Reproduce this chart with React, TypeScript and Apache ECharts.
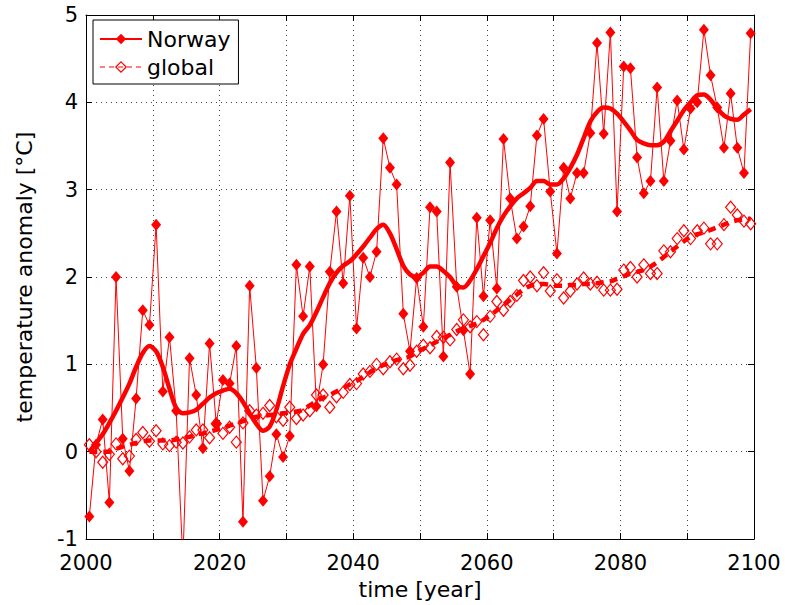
import React, { useEffect, useRef } from 'react';
import * as echarts from 'echarts';

// Calendar years of the annual means; each value is plotted at mid-year.
const years: number[] = Array.from({ length: 100 }, (_, i) => 2000 + i);

// Annual temperature anomaly for Norway [°C]
const norway: number[] = [
  -0.74, 0.08, 0.37, -0.58, 2.0, 0.15, -0.22, 0.61, 1.62, 1.45,
  2.6, 0.69, 1.31, 0.47, -1.25, 1.07, 0.65, 0.04, 1.24, 0.32,
  0.82, 0.78, 1.21, -0.8, 1.9, 0.96, -0.56, -0.28, 0.2, -0.06,
  0.18, 2.14, 1.55, 2.12, 0.52, 1.0, 2.06, 2.75, 1.93, 2.93,
  1.41, 2.22, 2.0, 2.29, 3.59, 3.25, 3.06, 1.58, 1.15, 1.99,
  1.43, 2.8, 2.75, 1.09, 3.31, 1.89, 1.39, 0.89, 2.68, 1.78,
  2.65, 1.87, 3.58, 2.9, 2.44, 2.58, 2.81, 3.62, 3.81, 2.98,
  2.27, 3.25, 2.9, 3.19, 3.19, 3.65, 4.68, 3.64, 4.8, 2.75,
  4.41, 4.39, 3.37, 2.96, 3.1, 4.17, 3.1, 3.56, 4.02, 3.46,
  3.93, 4.0, 4.83, 4.31, 3.94, 3.48, 4.1, 3.48, 3.19, 4.79,
];

// Annual global-mean temperature anomaly [°C]
const globalMean: number[] = [
  0.08, 0.0, -0.12, -0.03, 0.09, -0.08, -0.05, 0.14, 0.22, 0.12,
  0.24, 0.09, 0.07, 0.11, 0.1, 0.17, 0.25, 0.25, 0.16, 0.32,
  0.21, 0.28, 0.11, 0.33, 0.47, 0.42, 0.44, 0.53, 0.4, 0.36,
  0.51, 0.38, 0.42, 0.47, 0.65, 0.65, 0.51, 0.63, 0.68, 0.77,
  0.78, 0.89, 0.92, 1.0, 0.95, 1.03, 1.06, 0.95, 0.99, 1.15,
  1.22, 1.19, 1.32, 1.31, 1.28, 1.4, 1.51, 1.43, 1.49, 1.34,
  1.55, 1.72, 1.62, 1.72, 1.79, 1.96, 2.0, 1.9, 2.05, 1.84,
  1.97, 1.76, 1.84, 1.92, 1.99, 1.92, 1.94, 1.85, 1.85, 1.86,
  2.08, 2.11, 2.0, 2.14, 2.04, 2.04, 2.3, 2.29, 2.44, 2.53,
  2.44, 2.53, 2.56, 2.38, 2.38, 2.6, 2.8, 2.71, 2.64, 2.61,
];

// Low-pass filtered Norway anomaly [°C]
const norwaySmooth: number[] = [
  0.0, 0.1, 0.2, 0.33, 0.47, 0.62, 0.78, 0.97, 1.13, 1.21,
  1.15, 0.97, 0.72, 0.5, 0.44, 0.45, 0.48, 0.55, 0.62, 0.67,
  0.7, 0.72, 0.67, 0.57, 0.44, 0.32, 0.24, 0.29, 0.48, 0.75,
  1.0, 1.18, 1.35, 1.45, 1.6, 1.77, 1.93, 2.05, 2.13, 2.18,
  2.26, 2.35, 2.45, 2.55, 2.6, 2.5, 2.32, 2.13, 2.03, 2.0,
  2.05, 2.12, 2.12, 2.07, 2.0, 1.9, 1.88, 1.96, 2.09, 2.24,
  2.39, 2.56, 2.7, 2.81, 2.9, 2.96, 3.02, 3.1, 3.1, 3.06,
  3.06, 3.13, 3.25, 3.4, 3.59, 3.78, 3.89, 3.94, 3.93, 3.87,
  3.78, 3.68, 3.57, 3.53, 3.51, 3.51, 3.55, 3.67, 3.79, 3.91,
  4.0, 4.08, 4.09, 4.03, 3.93, 3.85, 3.81, 3.8, 3.86, 3.92,
];

// Low-pass filtered global-mean anomaly [°C]
const globalSmooth: number[] = [
  0.0, 0.0, 0.0, 0.0, 0.03, 0.06, 0.08, 0.1, 0.12, 0.13,
  0.13, 0.13, 0.13, 0.14, 0.16, 0.17, 0.2, 0.21, 0.23, 0.25,
  0.27, 0.3, 0.32, 0.35, 0.38, 0.4, 0.41, 0.42, 0.43, 0.44,
  0.45, 0.46, 0.48, 0.53, 0.58, 0.62, 0.65, 0.69, 0.73, 0.77,
  0.81, 0.86, 0.91, 0.96, 0.99, 1.02, 1.05, 1.07, 1.09, 1.14,
  1.18, 1.22, 1.26, 1.3, 1.34, 1.38, 1.41, 1.44, 1.47, 1.51,
  1.56, 1.62, 1.68, 1.74, 1.8, 1.86, 1.9, 1.92, 1.92, 1.91,
  1.9, 1.9, 1.91, 1.91, 1.92, 1.92, 1.93, 1.94, 1.95, 1.98,
  2.01, 2.04, 2.06, 2.08, 2.12, 2.17, 2.23, 2.29, 2.35, 2.41,
  2.46, 2.49, 2.51, 2.54, 2.57, 2.6, 2.63, 2.65, 2.66, 2.67,
];

// Labelled ticks on the time axis (grid lines every 10 years)
const xTickLabels: number[] = [2000, 2020, 2040, 2060, 2080, 2100];

const FONT = '"DejaVu Sans", "Liberation Sans", Arial, sans-serif';
const RED = '#ff0000';

const toPoints = (values: number[]) => years.map((y, i) => [y + 0.5, values[i]]);

export default function App() {
  const ref = useRef<HTMLDivElement>(null);

  useEffect(() => {
    const chart = echarts.init(ref.current!, null, { renderer: 'svg' });

    const frameAxis = {
      axisLine: { show: true, onZero: false, lineStyle: { color: '#000', width: 1 } },
      axisTick: { show: true, inside: true, length: 6, lineStyle: { color: '#000', width: 1 } },
    };
    const gridLine = { show: true, lineStyle: { color: '#444', width: 1, type: [1, 4] } };
    const titleStyle = { fontSize: 22, color: '#000', fontFamily: FONT };
    const tickStyle = { fontSize: 21, color: '#000', fontFamily: FONT };

    chart.setOption({
      animation: false,
      backgroundColor: '#ffffff',
      textStyle: { fontFamily: FONT },
      grid: { left: 86, right: 31, top: 15, bottom: 64, containLabel: false },
      xAxis: [
        {
          type: 'value',
          position: 'bottom',
          min: 2000,
          max: 2100,
          interval: 10,
          name: 'time [year]',
          nameLocation: 'middle',
          nameGap: 36,
          nameTextStyle: titleStyle,
          ...frameAxis,
          axisLabel: {
            ...tickStyle,
            margin: 13,
            showMinLabel: true,
            showMaxLabel: true,
            formatter: (v: number) => (xTickLabels.includes(v) ? String(v) : ''),
          },
          splitLine: gridLine,
        },
        {
          type: 'value',
          position: 'top',
          min: 2000,
          max: 2100,
          interval: 10,
          ...frameAxis,
          axisLabel: { show: false },
          splitLine: { show: false },
        },
      ],
      yAxis: [
        {
          type: 'value',
          position: 'left',
          min: -1,
          max: 5,
          interval: 1,
          name: 'temperature anomaly [°C]',
          nameLocation: 'middle',
          nameGap: 51,
          nameRotate: 90,
          nameTextStyle: titleStyle,
          ...frameAxis,
          axisLabel: { ...tickStyle, margin: 8, showMinLabel: true, showMaxLabel: true },
          splitLine: gridLine,
        },
        {
          type: 'value',
          position: 'right',
          min: -1,
          max: 5,
          interval: 1,
          ...frameAxis,
          axisLabel: { show: false },
          splitLine: { show: false },
        },
      ],
      legend: {
        left: 93,
        top: 20,
        orient: 'vertical',
        itemWidth: 42,
        itemHeight: 13,
        itemGap: 6,
        padding: [8, 8, 6, 6],
        backgroundColor: '#ffffff',
        borderColor: '#000',
        borderWidth: 1,
        borderRadius: 0,
        textStyle: { ...titleStyle },
        data: [
          { name: 'Norway' },
          {
            name: 'global',
            lineStyle: { opacity: 1, width: 1, type: [5, 4] },
            itemStyle: { borderWidth: 1.2 },
          },
        ],
      },
      series: [
        {
          name: 'Norway',
          type: 'line',
          data: toPoints(norway),
          symbol: 'diamond',
          symbolSize: [10, 12],
          showSymbol: true,
          lineStyle: { color: RED, width: 1 },
          itemStyle: { color: RED },
          z: 2,
        },
        {
          name: 'global',
          type: 'line',
          data: toPoints(globalMean),
          symbol: 'diamond',
          symbolSize: [10, 12],
          showSymbol: true,
          lineStyle: { color: RED, width: 1, opacity: 0 },
          itemStyle: { color: 'rgba(255,255,255,0)', borderColor: RED, borderWidth: 1.2 },
          z: 2,
        },
        {
          name: 'Norway (filtered)',
          type: 'line',
          data: toPoints(norwaySmooth),
          symbol: 'none',
          smooth: 0.3,
          lineStyle: { color: RED, width: 4.5 },
          z: 3,
        },
        {
          name: 'global (filtered)',
          type: 'line',
          data: toPoints(globalSmooth),
          symbol: 'none',
          smooth: 0.3,
          lineStyle: { color: RED, width: 4.5, type: [8, 6], cap: 'butt' },
          z: 3,
        },
      ],
    });

    return () => chart.dispose();
  }, []);

  return (
    <div
      ref={ref}
      style={{ position: 'absolute', left: 0, top: 0, width: 785, height: 605, background: '#fff' }}
    />
  );
}
